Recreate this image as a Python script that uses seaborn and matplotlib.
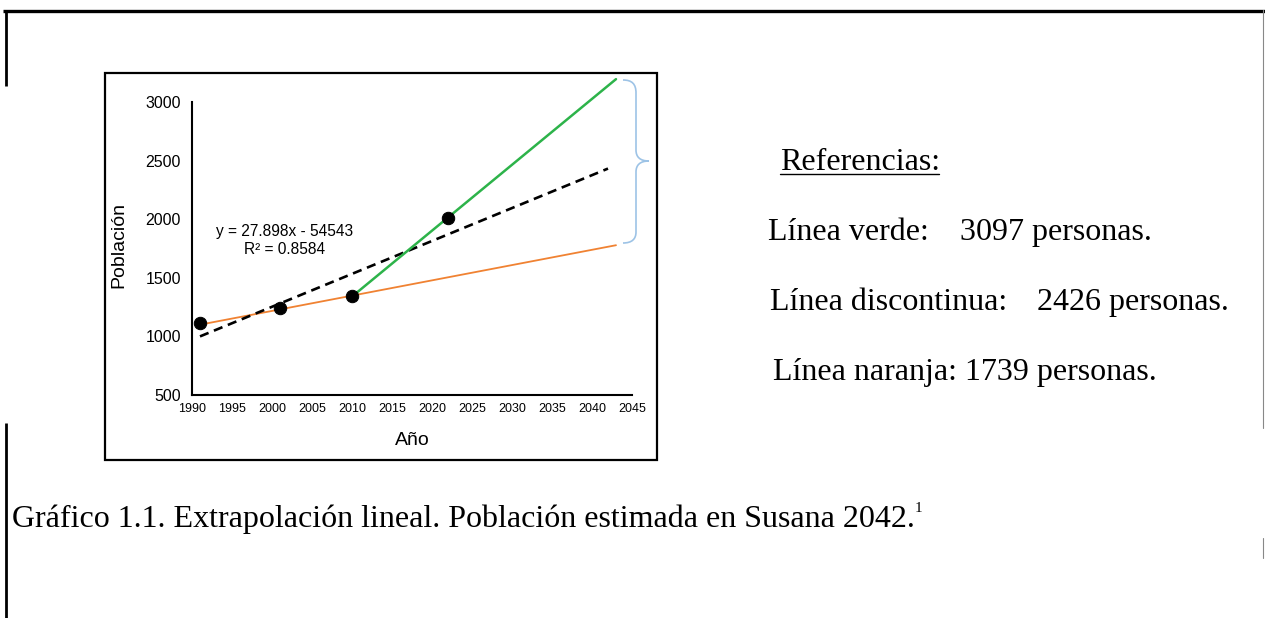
"""
Extrapolación lineal de la población de Susana hasta 2042.
"""

import matplotlib
matplotlib.use("Agg")
import matplotlib.pyplot as plt
from matplotlib.path import Path
from matplotlib.patches import PathPatch, Rectangle
import pandas as pd
import seaborn as sns

# Censos observados
years = [1991, 2001, 2010, 2022]
poblacion = [1112, 1240, 1343, 2008]

# Extremos de las rectas de extrapolación
green_years = [2010, 2043]
green_vals = [1340, 3195]
orange_years = [1991, 2043]
orange_vals = [1100, 1778]
trend_years = [1991, 2042]
trend_vals = [1000, 2432]

x_ticks = [1990, 1995, 2000, 2005, 2010, 2015, 2020, 2025, 2030, 2035, 2040, 2045]
y_ticks = [500, 1000, 1500, 2000, 2500, 3000]

equation = "y = 27.898x - 54543\nR² = 0.8584"
ref_title = "Referencias:"
ref_labels = ["Línea verde:", "Línea discontinua:", "Línea naranja: 1739 personas."]
ref_values = ["3097 personas.", "2426 personas.", ""]
caption = "Gráfico 1.1. Extrapolación lineal. Población estimada en Susana 2042."

sns.set_style("white")
plt.rcParams["font.family"] = ["Liberation Sans", "DejaVu Sans"]
plt.rcParams["text.color"] = "black"
plt.rcParams["axes.labelcolor"] = "black"
plt.rcParams["xtick.color"] = "black"
plt.rcParams["ytick.color"] = "black"

W, H = 1265, 618
fig = plt.figure(figsize=(W / 100, H / 100), dpi=100)

# Background layer in pixel coordinates (page frame, chart box, texts)
bg = fig.add_axes([0, 0, 1, 1])
bg.set_xlim(0, W)
bg.set_ylim(H, 0)
bg.axis("off")

bg.plot([3, W], [11, 11], color="black", lw=2.4, solid_capstyle="butt")
bg.plot([6, 6], [10, 86], color="black", lw=2.0, solid_capstyle="butt")
bg.plot([6, 6], [423, H], color="black", lw=2.0, solid_capstyle="butt")
bg.plot([1263, 1263], [10, 428], color="#888888", lw=0.8)
bg.plot([1263, 1263], [538, 558], color="#888888", lw=0.8)

bg.add_patch(Rectangle((105, 73), 552, 387, fill=False, edgecolor="black", lw=1.6))

# Curly brace to the right of the extrapolated lines
verts = [
    (623, 80), (632, 80), (636, 84), (636, 93),
    (636, 150),
    (636, 157), (640, 161), (649, 161),
    (640, 161), (636, 165), (636, 172),
    (636, 232),
    (636, 239), (632, 243), (623, 243),
]
codes = [Path.MOVETO, Path.CURVE4, Path.CURVE4, Path.CURVE4,
         Path.LINETO,
         Path.CURVE4, Path.CURVE4, Path.CURVE4,
         Path.CURVE4, Path.CURVE4, Path.CURVE4,
         Path.LINETO,
         Path.CURVE4, Path.CURVE4, Path.CURVE4]
bg.add_patch(PathPatch(Path(verts, codes), facecolor="none", edgecolor="#9dc3e6", lw=1.2))

serif = ["Liberation Serif", "DejaVu Serif"]
bg.text(780, 170, ref_title, family=serif, fontsize=23, va="baseline")
bg.plot([780, 939], [174, 174], color="black", lw=1.0)
ref_rows = [(768, 960, 240), (770, 1037, 310), (773, None, 380)]
for (x_lab, x_val, y_base), lab, val in zip(ref_rows, ref_labels, ref_values):
    bg.text(x_lab, y_base, lab, family=serif, fontsize=23, va="baseline")
    if x_val is not None:
        bg.text(x_val, y_base, val, family=serif, fontsize=23, va="baseline")

bg.text(12, 527, caption, family=serif, fontsize=23, va="baseline")
bg.text(915, 512, "1", family=serif, fontsize=11, va="baseline")

# Chart
ax = fig.add_axes([192 / W, (H - 395) / H, 440 / W, 322.3 / H])
ax.patch.set_alpha(0)

sns.lineplot(x=orange_years, y=orange_vals, ax=ax, color="#f08232", lw=1.3)
sns.lineplot(x=trend_years, y=trend_vals, ax=ax, color="black", lw=1.9,
             linestyle=(0, (3.5, 2.2)))
sns.lineplot(x=green_years, y=green_vals, ax=ax, color="#2db34a", lw=1.8)
sns.scatterplot(data=pd.DataFrame({"Año": years, "Población": poblacion}),
                x="Año", y="Población", ax=ax, color="black", s=80,
                edgecolor="black", zorder=5)

ax.set_xlim(1990, 2045)
ax.set_ylim(500, 3250)
ax.set_xticks(x_ticks)
ax.set_yticks(y_ticks)
sns.despine(ax=ax)
ax.spines["left"].set_bounds(500, 3000)
ax.spines["bottom"].set_bounds(1990, 2045)
for side in ("left", "bottom"):
    ax.spines[side].set_linewidth(1.5)
    ax.spines[side].set_color("black")
ax.tick_params(axis="y", direction="out", length=4, width=1.3, labelsize=11.5, pad=4)
ax.tick_params(axis="x", direction="in", length=4, width=1.3, labelsize=9, pad=6)

ax.set_xlabel("Año", fontsize=14)
ax.set_ylabel("Población", fontsize=14)
ax.xaxis.set_label_coords(0.5, -0.115)
ax.yaxis.set_label_coords(-0.148, 0.465)

ax.text(2001.6, 1820, equation, ha="center", va="center", fontsize=11.2,
        linespacing=1.25)

fig.savefig("out.png", dpi=100)
